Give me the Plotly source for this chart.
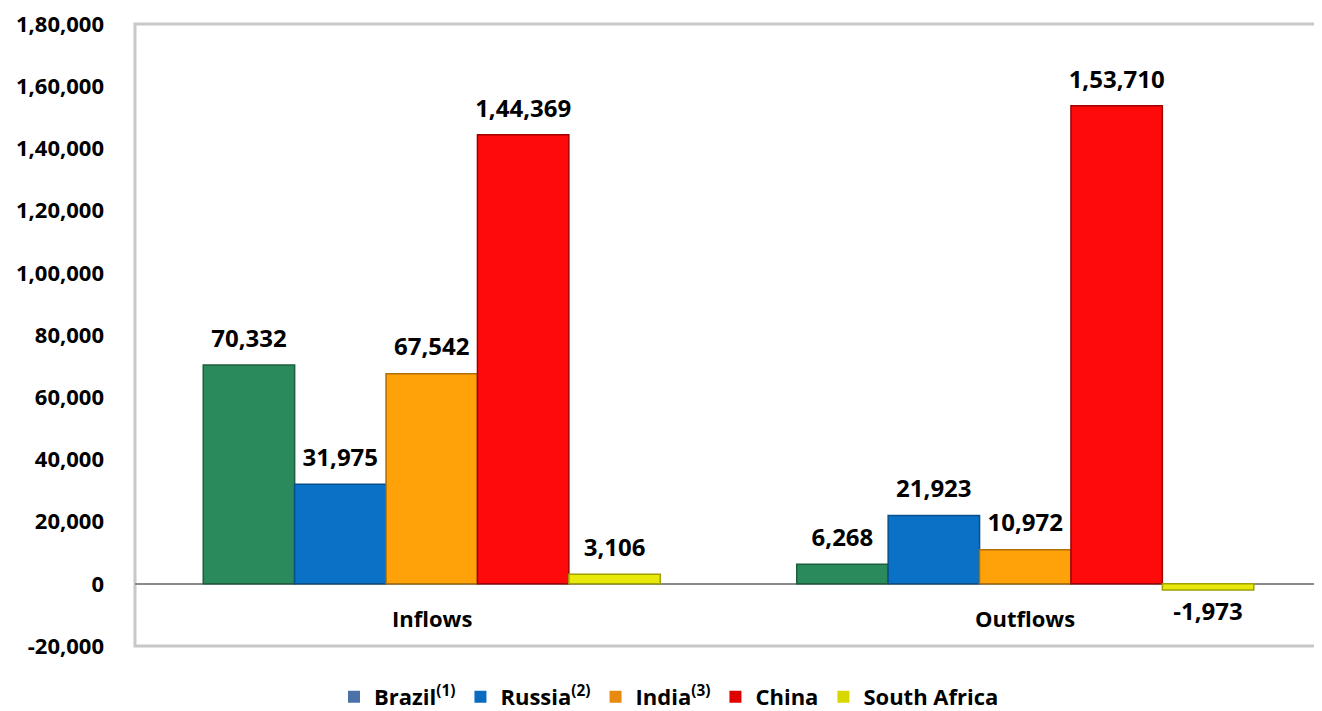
import plotly.graph_objects as go

categories = ["Inflows", "Outflows"]
countries = ["Brazil", "Russia", "India", "China", "South Africa"]
legend_names = ["Brazil<sup>(1)</sup>", "Russia<sup>(2)</sup>", "India<sup>(3)</sup>", "China", "South Africa"]
brazil = [70332, 6268]
russia = [31975, 21923]
india = [67542, 10972]
china = [144369, 153710]
south_africa = [3106, -1973]
series = [brazil, russia, india, china, south_africa]

tick_vals = [-20000, 0, 20000, 40000, 60000, 80000, 100000, 120000, 140000, 160000, 180000]
tick_text = ["-20,000", "0", "20,000", "40,000", "60,000", "80,000", "1,00,000",
             "1,20,000", "1,40,000", "1,60,000", "1,80,000"]

bar_colors = ["#2a8a5c", "#0a72c6", "#ffa20a", "#ff0a0a", "#e8e80a"]
edge_colors = ["#1c5e3e", "#08508c", "#b06f06", "#a00000", "#a0a000"]
legend_colors = ["#4a72a8", "#0a6cc0", "#e88a10", "#e00000", "#d8d800"]


def indian(v):
    s = str(abs(int(v)))
    if len(s) > 3:
        head, tail = s[:-3], s[-3:]
        parts = []
        while len(head) > 2:
            parts.insert(0, head[-2:])
            head = head[:-2]
        if head:
            parts.insert(0, head)
        s = ",".join(parts) + "," + tail
    return ("-" if v < 0 else "") + s


FONT = "Open Sans"
FS = 24
fig = go.Figure()
for name, vals, c, ec in zip(countries, series, bar_colors, edge_colors):
    fig.add_trace(go.Bar(
        x=categories, y=vals, name=name, showlegend=False, offsetgroup=name,
        marker=dict(color=c, line=dict(color=ec, width=1.5)),
    ))
for name, vals in zip(countries, series):
    fig.add_trace(go.Scatter(
        x=categories, y=vals, mode="markers+text", showlegend=False, offsetgroup=name,
        marker=dict(size=18, opacity=0), hoverinfo="skip", cliponaxis=False,
        text=[indian(v) for v in vals],
        textposition=["top center" if v >= 0 else "bottom center" for v in vals],
        textfont=dict(family=FONT, size=FS, color="black", weight="bold"),
    ))
for name, lname, lc in zip(countries, legend_names, legend_colors):
    fig.add_trace(go.Bar(x=[categories[0]], y=[0], name=lname, offsetgroup=name,
                         marker=dict(color=lc, line=dict(width=0)), showlegend=True,
                         hoverinfo="skip"))

for cat in categories:
    fig.add_annotation(x=cat, y=-11000, xref="x", yref="y", text="<b>" + cat + "</b>",
                       showarrow=False, font=dict(family=FONT, size=22, color="black"))

fig.add_shape(type="rect", xref="paper", yref="paper", x0=0, x1=1, y0=0, y1=1,
              line=dict(color="#c8c8c8", width=3), layer="below")

fig.update_layout(
    width=1322, height=711,
    margin=dict(l=127, r=8, t=16, b=73, autoexpand=False),
    paper_bgcolor="white", plot_bgcolor="white",
    barmode="group", bargap=0.23, bargroupgap=0,
    scattermode="group", scattergap=0.23,
    xaxis=dict(showticklabels=False, showgrid=False, zeroline=False, showline=False),
    yaxis=dict(range=[-20000, 180000], tickvals=tick_vals, ticktext=tick_text,
               showgrid=False, zeroline=True, zerolinecolor="#8a8a8a", zerolinewidth=1.5,
               tickfont=dict(family=FONT, size=22, color="black", weight="bold"),
               ticklabelstandoff=30, ticklabeloverflow="allow"),
    legend=dict(orientation="h", xref="container", x=0.5, xanchor="center",
                yref="container", y=0.031, yanchor="middle",
                font=dict(family=FONT, size=22, color="black", weight="bold"),
                itemwidth=30, traceorder="normal"),
)

fig.write_html("out.html")
